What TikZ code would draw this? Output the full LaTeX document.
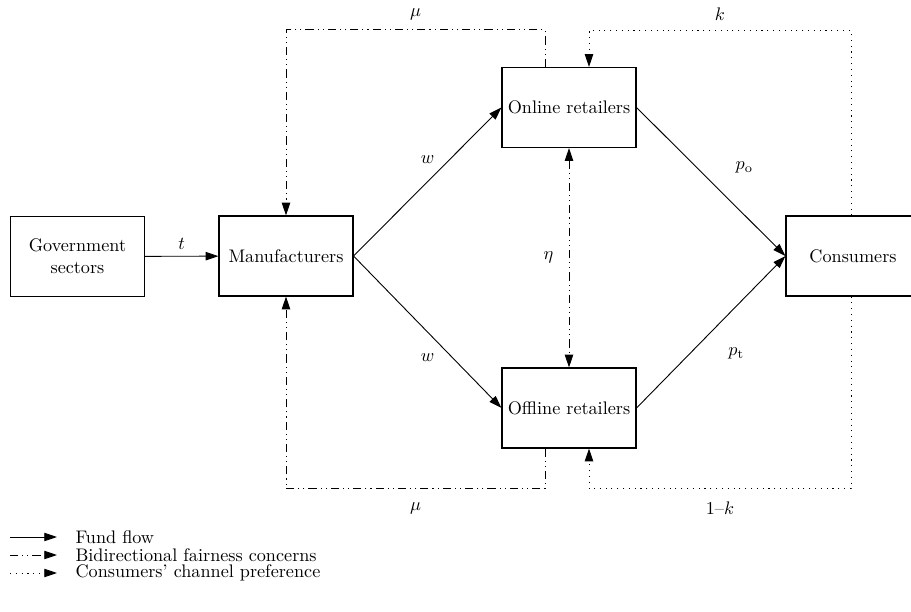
\documentclass[tikz,border=0pt]{standalone}
\usepackage{amsmath}
\usepackage{tikz}
\usetikzlibrary{arrows.meta,positioning}
\tikzset{
	blocnode/.style = {align=center, inner sep=1pt, text centered},
	bloc_b/.style = {blocnode, rectangle, draw=black, line width=0.6pt,
		minimum width=73.7pt, minimum height=44pt},% bloc
	flux_f/.style = {->, line width=0.5pt},% fund flow
	flux_e/.style = {flux_f, dash pattern=on 4.5pt off 2.2pt on 0.6pt off 2.2pt on 0.6pt off 2.2pt},% fairness
	flux_p/.style = {flux_f, dash pattern=on 0.6pt off 2.6pt},% preference
	leg_t/.style = {anchor=west, inner xsep=10pt, inner ysep=0.5pt}
}
\begin{document}
\begin{tikzpicture}[x=0.55pt, y=-0.55pt, >={Triangle[length=7pt,width=4.6pt]}]
\useasboundingbox (0,0) rectangle (911,612);
% blocs
\node [bloc_b] (gov) at (77.5,256.5) {Government\\sectors};
\node [bloc_b] (manu) at (286,256) {Manufacturers};
\node [bloc_b] (on) at (569,107.5) {Online retailers};
\node [bloc_b] (off) at (569,408) {Offline retailers};
\node [bloc_b] (cons) at (853,256) {Consumers};
% fund flow
\draw [flux_f] (gov) -- node[above] {$t$} (manu);
\draw [flux_f] (manu.east) -- node[above=6.5pt] {$w$} (on.west);
\draw [flux_f] (manu.east) -- node[below=8.5pt] {$w$} (off.west);
\draw [flux_f] (on.east) -- node[above right=1pt and 10pt] {$p_{\mathrm{o}}$} (cons.west);
\draw [flux_f] (off.east) -- node[below right=5pt and 6pt] {$p_{\mathrm{t}}$} (cons.west);
% fairness concerns
\draw [flux_e] ([xshift=-13.2pt]on.north) -- ++(0,-37) -| node[pos=0.25, above=2pt] {$\mu$} (manu.north);
\draw [flux_e] ([xshift=-13.2pt]off.south) -- ++(0,40) -| node[pos=0.25, below=4pt] {$\mu$} (manu.south);
\draw [flux_e, <->] (on.south) -- node[left=5pt] {$\eta$} (off.north);
% channel preference
\draw [flux_p] ([xshift=-1.1pt]cons.north) -- ++(0,-185) -| node[pos=0.25, above=2pt] {$k$} ([xshift=11pt]on.north);
\draw [flux_p] ([xshift=-1.1pt]cons.south) -- ++(0,192) -| node[pos=0.25, below=4pt] {$1\text{--}k$} ([xshift=11pt]off.south);
% legende
\node [leg_t] (l1) at (57,537) {Fund flow};
\node [leg_t] (l2) at (57,555) {Bidirectional fairness concerns};
\node [leg_t] (l3) at (57,573) {Consumers' channel preference};
\coordinate (s1) at (10,537);
\coordinate (s2) at (10,555);
\coordinate (s3) at (10,573);
\draw [flux_f] (s1) -- (l1.west);
\draw [flux_e] (s2) -- (l2.west);
\draw [flux_p] (s3) -- (l3.west);
\end{tikzpicture}
\end{document}
